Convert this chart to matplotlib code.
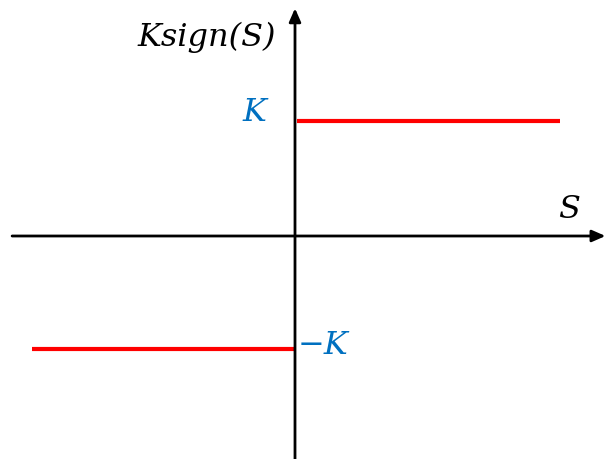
import matplotlib.pyplot as plt

# signum function K*sign(S), K normalised to 1
K = 1.0
s_neg = [-2.29, 0.0]
s_pos = [0.02, 2.3]
y_neg = [-0.98 * K, -0.98 * K]
y_pos = [K, K]

# axis extents
x_axis = [-2.46, 2.70]
y_axis = [-1.95, 1.98]

fig = plt.figure(figsize=(6.06, 4.59), dpi=100)
ax = fig.add_axes([0, 0, 1, 1])
ax.set_xlim(-295 / 115, 311 / 115)
ax.set_ylim(-223 / 115, 236 / 115)
ax.axis("off")

arrow = dict(arrowstyle="-|>,head_length=0.8,head_width=0.35", color="black",
             lw=2, shrinkA=0, shrinkB=0)
ax.annotate("", xy=(x_axis[1], 0), xytext=(x_axis[0], 0), arrowprops=arrow)
ax.annotate("", xy=(0, y_axis[1]), xytext=(0, y_axis[0]), arrowprops=arrow)

ax.plot(s_pos, y_pos, color="#ff0000", lw=3, solid_capstyle="butt")
ax.plot(s_neg, y_neg, color="#ff0000", lw=3, solid_capstyle="butt")

font = dict(family="DejaVu Serif", style="italic", fontsize=23)
ax.text(-0.77, 1.73, "Ksign(S)", ha="center", va="center", **font)
ax.text(-0.35, K + 0.07, "K", ha="center", va="center", color="#0070c0", **font)
ax.text(0.02, -0.98 * K + 0.03, "\u2212K", ha="left", va="center", color="#0070c0", **font)
ax.text(2.38, 0.23, "S", ha="center", va="center", **font)

fig.savefig("out.png", dpi=100)
